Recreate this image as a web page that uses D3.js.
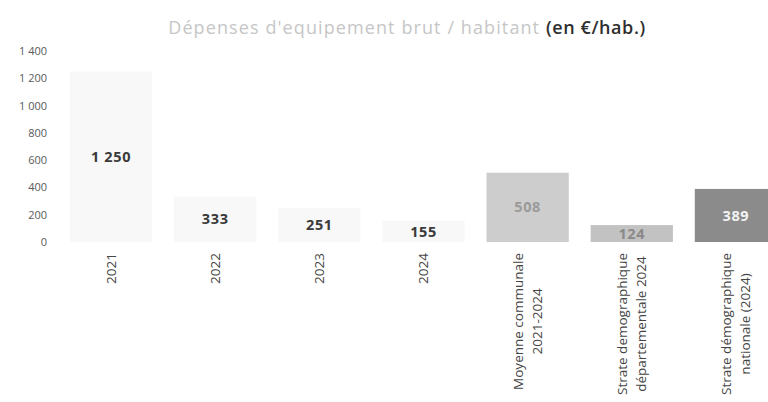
<!DOCTYPE html>
<html><head><meta charset="utf-8">
<script src="https://cdn.jsdelivr.net/npm/d3@7"></script>
<style>html,body{margin:0;padding:0;background:#fff;}svg{display:block;}</style>
</head><body>
<svg id="chart" width="768" height="402"></svg>
<script>
const categories = [
  ["2021"], ["2022"], ["2023"], ["2024"],
  ["Moyenne communale", "2021-2024"],
  ["Strate demographique", "départementale 2024"],
  ["Strate démographique", "nationale (2024)"]
];
const values = [1250, 333, 251, 155, 508, 124, 389];
const valueLabels = ["1 250", "333", "251", "155", "508", "124", "389"];
const barColors = ["#f8f8f8", "#f8f8f8", "#f8f8f8", "#f8f8f8", "#cdcdcd", "#c2c2c2", "#8b8b8b"];
const labelColors = ["#3a3a3a", "#3a3a3a", "#3a3a3a", "#3a3a3a", "#9a9a9a", "#8a8a8a", "#f2f2f2"];
const yTicks = [0, 200, 400, 600, 800, 1000, 1200, 1400];
const titleMain = "Dépenses d'equipement brut / habitant ";
const titleUnit = "(en €/hab.)";

const svg = d3.select("#chart");
const font = "'Open Sans', sans-serif";
const keys = categories.map((c, i) => String(i));

const x = d3.scaleBand().domain(keys).range([59, 788]).paddingInner(0.21).paddingOuter(0.105);
const y = d3.scaleLinear().domain([0, 1400]).range([242, 51]);

// Title
const title = svg.append("text")
  .attr("x", 407).attr("y", 34)
  .attr("text-anchor", "middle")
  .style("font-family", font).style("font-size", "18px").style("letter-spacing", "1.1px");
title.append("tspan").text(titleMain).attr("fill", "#c6c6c6");
title.append("tspan").text(titleUnit).attr("fill", "#2e2e2e").style("font-weight", "600")
  .style("letter-spacing", "0.6px");

// Y axis
const yAxis = d3.axisLeft(y).tickValues(yTicks).tickSize(0).tickPadding(0)
  .tickFormat(d => d3.format(",")(d).replace(/,/g, " "));
const gy = svg.append("g").attr("transform", "translate(47,0)").call(yAxis);
gy.select(".domain").remove();
gy.selectAll("text").style("font-family", font).style("font-size", "11px").attr("fill", "#5a5a5a");

// Bars
svg.append("g").selectAll("rect").data(values).join("rect")
  .attr("x", (d, i) => x(keys[i]))
  .attr("width", x.bandwidth())
  .attr("y", d => y(d))
  .attr("height", d => y(0) - y(d))
  .attr("fill", (d, i) => barColors[i]);

// Value labels
svg.append("g").selectAll("text").data(values).join("text")
  .attr("x", (d, i) => x(keys[i]) + x.bandwidth() / 2)
  .attr("y", d => (y(d) + y(0)) / 2)
  .attr("dy", "0.35em")
  .attr("text-anchor", "middle")
  .style("font-family", font).style("font-size", "14.5px").style("font-weight", "700")
  .style("letter-spacing", "0.6px")
  .attr("fill", (d, i) => labelColors[i])
  .text((d, i) => valueLabels[i]);

// Category labels (rotated)
const lineH = 19;
const labelTop = 253;
const gx = svg.append("g");
categories.forEach((lines, i) => {
  const cx = x(keys[i]) + x.bandwidth() / 2;
  const g = gx.append("g").attr("transform", `translate(${cx},${labelTop}) rotate(-90)`);
  const texts = lines.map((ln, j) => g.append("text")
    .attr("text-anchor", "middle")
    .attr("y", (j - (lines.length - 1) / 2) * lineH)
    .attr("dy", "0.35em")
    .style("font-family", font).style("font-size", "13.5px")
    .attr("fill", "#444")
    .text(ln));
  const maxW = d3.max(texts, t => t.node().getComputedTextLength());
  texts.forEach(t => t.attr("x", -maxW / 2));
});
</script>
</body></html>
